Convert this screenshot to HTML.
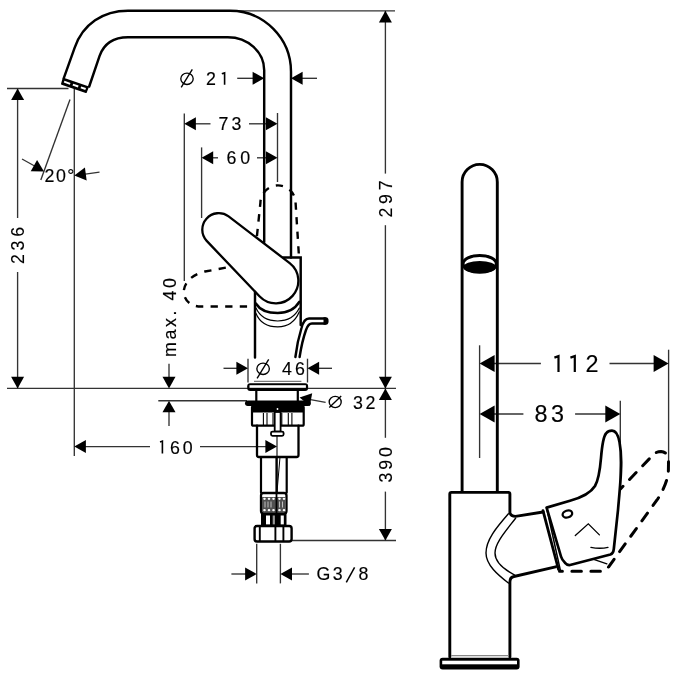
<!DOCTYPE html>
<html><head><meta charset="utf-8"><style>
html,body{margin:0;padding:0;background:#fff;}
svg{display:block;}
text{font-family:"Liberation Sans",sans-serif;fill:#000;stroke:#000;stroke-width:0.15;}
svg{will-change:transform;}
.t{stroke:#333;stroke-width:1.35;fill:none;}
.k{stroke:#000;fill:none;stroke-linecap:round;}
.th path{stroke:#000;stroke-width:2.45;fill:none;stroke-linecap:round;}
.d{stroke:#000;stroke-width:2.4;fill:none;stroke-dasharray:7.3 7.3;}
.dd path{stroke:#000;stroke-width:2.4;fill:none;stroke-dasharray:7.3 7.3;}
.h{stroke:#000;stroke-width:2.3;fill:#fff;}
</style></head><body>
<svg width="675" height="675" viewBox="0 0 675 675">
<rect width="675" height="675" fill="#fff"/>
<g><line class="t" x1="128" y1="10.8" x2="395" y2="10.8"/><line class="t" x1="7" y1="88.5" x2="68.5" y2="88.5"/><line class="t" x1="74.3" y1="88.5" x2="74.3" y2="456"/><line class="t" x1="70" y1="99.5" x2="40.8" y2="180"/><line class="t" x1="22" y1="159" x2="40" y2="169"/><line class="t" x1="80" y1="174.8" x2="99.5" y2="172.2"/><line class="t" x1="17.6" y1="88.5" x2="17.6" y2="218"/><line class="t" x1="17.6" y1="272" x2="17.6" y2="388.4"/><line class="t" x1="7" y1="388.4" x2="248" y2="388.4"/><line class="t" x1="308" y1="388.4" x2="396" y2="388.4"/><line class="t" x1="385.4" y1="10.8" x2="385.4" y2="173.6"/><line class="t" x1="385.4" y1="225.2" x2="385.4" y2="388.4"/><line class="t" x1="385.4" y1="388.4" x2="385.4" y2="437.8"/><line class="t" x1="385.4" y1="491.6" x2="385.4" y2="540.5"/><line class="t" x1="291" y1="540.5" x2="396" y2="540.5"/><line class="t" x1="237.2" y1="78.3" x2="255" y2="78.3"/><line class="t" x1="300" y1="78.3" x2="317" y2="78.3"/><line class="t" x1="184.3" y1="113.5" x2="184.3" y2="281"/><line class="t" x1="277.5" y1="113" x2="277.5" y2="182"/><line class="t" x1="190" y1="123.8" x2="210.5" y2="123.8"/><line class="t" x1="249" y1="123.8" x2="270" y2="123.8"/><line class="t" x1="201.6" y1="147.4" x2="201.6" y2="218"/><line class="t" x1="205" y1="157.8" x2="218" y2="157.8"/><line class="t" x1="257" y1="157.8" x2="270" y2="157.8"/><line class="t" x1="169" y1="363.8" x2="169" y2="380"/><line class="t" x1="158.3" y1="400.7" x2="247" y2="400.7"/><line class="t" x1="169" y1="405" x2="169" y2="426"/><line class="t" x1="223.5" y1="368.3" x2="240" y2="368.3"/><line class="t" x1="315" y1="368.3" x2="332" y2="368.3"/><line class="t" x1="248" y1="358.7" x2="248" y2="382.5"/><line class="t" x1="307.5" y1="358.7" x2="307.5" y2="382.5"/><line class="t" x1="305" y1="398.6" x2="325.6" y2="402.4"/><line class="t" x1="80" y1="446.6" x2="150" y2="446.6"/><line class="t" x1="200" y1="446.6" x2="270" y2="446.6"/><line class="t" x1="277" y1="407" x2="277" y2="492"/><line class="t" x1="256.7" y1="543.8" x2="256.7" y2="583.4"/><line class="t" x1="280.4" y1="543.8" x2="280.4" y2="583.4"/><line class="t" x1="231.4" y1="574" x2="250" y2="574"/><line class="t" x1="287" y1="574" x2="308.9" y2="574"/><line class="t" x1="479.6" y1="345.3" x2="479.6" y2="458"/><line class="t" x1="668.6" y1="349.7" x2="668.6" y2="463.8"/><line class="t" x1="620.3" y1="400.8" x2="620.3" y2="486"/><line class="t" x1="490" y1="363.5" x2="540.9" y2="363.5"/><line class="t" x1="609.5" y1="363.5" x2="660" y2="363.5"/><line class="t" x1="490" y1="414" x2="523.4" y2="414"/><line class="t" x1="575.1" y1="414" x2="610" y2="414"/></g>
<g class="dd"><path d="M256.5 240 L260.4 203 A17.6 17.6 0 0 1 295.6 203 L299 257" stroke-dashoffset="10.6"/><path stroke-dashoffset="8.3" d="M232 266.5 L205 271.5 C189 275 182.5 286 184 294 C185 301 191 306.5 201 306.5 L256 306.5"/></g>
<g class="th"><path d="M63.8 78.2 L74.7 47.6 C83 24 103 10.8 128 10.8 L230 10.8 A61 61 0 0 1 291 71.8 L291 257.4"/><path d="M89.2 86.5 L99.6 55.9 C104 43.7 113 37.3 128 37.3 L227.8 37.3 A36.4 33 0 0 1 264.2 70.3 L264.2 242"/><path d="M283.2 257.4 L300.7 257.4 L300.7 325"/><path d="M255 292 L255 357.4"/><path d="M295.4 357 C296.5 348 299 336 301.5 328 C303 322 305 318.5 309 318.5 L325 318.5"/><path d="M299.6 357 C301 348 303.5 337 306 330 C307.5 325.5 309 323.5 312 323.5 L325 323.5"/><path d="M323.5 317.3 L326 317.3 Q328.6 317.3 328.6 321 Q328.6 324.7 326 324.7 L323.5 324.7 Z" style="fill:#000;stroke:none"/></g>
<g><path class="k" d="M256 303.7 C260 310 268 313 277.7 313 C287 313 295 309 299.3 301.9" stroke-width="2.6"/><path class="k" d="M256 308.1 C260 317 268 321 277.7 321 C288 321 295 317 299.3 308.1" stroke-width="1.2"/><path class="k" d="M256 313.4 C260 323 268 326.8 277.7 326.8 C288 326.8 295 322 299.3 311.7" stroke-width="1.2"/></g>
<path class="h" d="M228.6 216.4 L289.7 263.1 A22.5 22.5 0 1 1 259.7 296.5 L206.7 240.9 A16.5 16.5 0 0 1 228.6 216.4 Z"/>
<path d="M63.3 78.6 L88 86.9 L86 92.3 L61.8 84 Z" fill="#000" stroke="#000" stroke-width="1.6" stroke-linejoin="round"/><path d="M64.5 80.8 L70.5 82.9 L69.8 84.7 L63.8 82.6 Z M73.2 83.8 L78.6 85.6 L77.9 87.4 L72.5 85.6 Z M81.2 86.5 L86 88.1 L85.3 89.9 L80.5 88.3 Z" fill="#fff"/>
<g><rect x="247.2" y="383.2" width="60.9" height="7.8" rx="3" fill="#000"/><rect x="249.5" y="385.2" width="56.4" height="2.6" fill="#fff"/><line x1="254" y1="381.3" x2="301.4" y2="381.3" stroke="#777" stroke-width="1.2"/><path class="k" d="M256.3 391 L256.3 401 M297.8 391 L297.8 401" stroke-width="2.2"/><rect x="245" y="400.6" width="65.8" height="5.5" rx="2.75" fill="#000"/><rect x="252" y="406" width="51.7" height="19.7" rx="1.5" fill="#fff" stroke="#000" stroke-width="2.2"/><rect x="252" y="406" width="51.7" height="6.5" fill="#000"/><circle cx="277.5" cy="409" r="0.9" fill="#fff"/><line x1="263.4" y1="413" x2="263.4" y2="425" stroke="#000" stroke-width="1.1"/><line x1="267" y1="413" x2="267" y2="425" stroke="#000" stroke-width="1.1"/><line x1="273" y1="413" x2="273" y2="425" stroke="#000" stroke-width="1.1"/><line x1="281.8" y1="413" x2="281.8" y2="425" stroke="#000" stroke-width="1.1"/><line x1="288.3" y1="413" x2="288.3" y2="425" stroke="#000" stroke-width="1.1"/><line x1="291.9" y1="413" x2="291.9" y2="425" stroke="#000" stroke-width="1.1"/><rect x="274.7" y="412" width="5.9" height="19.6" fill="#fff" stroke="#000" stroke-width="1.8"/><rect x="271" y="431.6" width="12.6" height="4.2" rx="1.5" fill="#fff" stroke="#000" stroke-width="1.8"/><path class="k" d="M257 425.7 L257 455 Q257 457 259 457 L296.5 457 Q298.5 457 298.5 455 L298.5 425.7" stroke-width="2.3"/><path class="k" d="M261 457 L261 492.6 M276.5 457 L276.5 492.6 M286.7 457 L286.7 492.6" stroke-width="2.2"/><line x1="280" y1="457" x2="277" y2="492" stroke="#000" stroke-width="1"/><rect x="261" y="493" width="25.5" height="20.5" rx="2.5" fill="#fff" stroke="#000" stroke-width="2.3"/><rect x="262" y="497" width="23.5" height="15" fill="#505050"/><ellipse cx="264.5" cy="498.8" rx="1.3" ry="1.1" fill="#fff"/><ellipse cx="264.5" cy="510.2" rx="1.3" ry="1.1" fill="#fff"/><ellipse cx="269" cy="498.8" rx="1.3" ry="1.1" fill="#fff"/><ellipse cx="269" cy="510.2" rx="1.3" ry="1.1" fill="#fff"/><ellipse cx="273.5" cy="498.8" rx="1.3" ry="1.1" fill="#fff"/><ellipse cx="273.5" cy="510.2" rx="1.3" ry="1.1" fill="#fff"/><ellipse cx="279.5" cy="498.8" rx="1.3" ry="1.1" fill="#fff"/><ellipse cx="279.5" cy="510.2" rx="1.3" ry="1.1" fill="#fff"/><ellipse cx="284" cy="498.8" rx="1.3" ry="1.1" fill="#fff"/><ellipse cx="284" cy="510.2" rx="1.3" ry="1.1" fill="#fff"/><line x1="265" y1="501.5" x2="265" y2="507.5" stroke="#ccc" stroke-width="0.9"/><line x1="268" y1="501.5" x2="268" y2="507.5" stroke="#ccc" stroke-width="0.9"/><line x1="271" y1="501.5" x2="271" y2="507.5" stroke="#ccc" stroke-width="0.9"/><line x1="279.5" y1="501.5" x2="279.5" y2="507.5" stroke="#ccc" stroke-width="0.9"/><line x1="282.5" y1="501.5" x2="282.5" y2="507.5" stroke="#ccc" stroke-width="0.9"/><line x1="276.5" y1="493" x2="276.5" y2="513" stroke="#000" stroke-width="1.8"/><rect x="261" y="513" width="25.5" height="13" fill="#000"/><rect x="266" y="515.5" width="4" height="9" fill="#fff"/><rect x="272.7" y="515.5" width="2.2" height="9" fill="#999"/><rect x="280.7" y="515.5" width="3.1" height="9" fill="#fff"/><rect x="254.6" y="526" width="37" height="15.5" rx="2.5" fill="#fff" stroke="#000" stroke-width="2.4"/><path class="k" d="M259.8 526 L259.8 541 M275.4 526 L275.4 541 M283.4 526 L283.4 541" stroke-width="1.9" stroke-linecap="butt"/></g>
<g><path class="k" d="M462.1 491 L462.1 182 A17.6 17.6 0 0 1 497.3 182 L497.3 491" stroke-width="2.9"/><ellipse cx="479.7" cy="263.7" rx="16.6" ry="8.3" fill="#fff" stroke="#000" stroke-width="3"/><ellipse cx="479.7" cy="267.3" rx="16.4" ry="6.3" fill="#000"/><path class="k" d="M449.8 657 L449.8 494 Q449.8 492.4 451.5 492.4 L508.3 492.4 Q509.9 492.4 509.9 494 L509.9 512.9 Q511 516.4 515.6 516.4 L543.1 512" stroke-width="2.9"/><path class="k" d="M509.9 657 L509.9 582 Q510 577 514 576.5 L555.6 566.8" stroke-width="2.9"/><path class="k" d="M508.4 513.8 C496 528 486 540 486 553 C486 565 498 575 508.4 583" stroke-width="1.4"/><path class="k" d="M515.6 518.2 C505 532 495 543 495 553 C495 562 505 570 514.7 575.1" stroke-width="1.4"/><path class="k" d="M543 510.6 L558.5 569.5" stroke-width="2.8" stroke-linecap="butt"/><path class="k" d="M546.6 508 L560.5 570.8" stroke-width="1.5"/><path class="k" d="M546.6 507.6 L570 500.7 C580 498 590 494 595 486 C599 479 600 470 601 458 C602 446 603 437 606 433.5 C608 431 610 430.7 612 430.7 C616 430.7 618 434 619.5 442 C621 450 621.5 460 621 470 C620.8 480 619.3 495 618 510 L613.8 549 Q613.3 553.5 610.4 554.5 L571 564.8 Q567.5 565.8 565 562.8 Q562 560 561 556.5 Z" stroke-width="2.7" stroke-linejoin="round"/><ellipse cx="567.4" cy="514" rx="4.9" ry="3.4" fill="none" stroke="#000" stroke-width="2.3" transform="rotate(-18 567.4 514)"/><path class="k" d="M575.3 535.6 L588.3 523.8 L599.4 534.9" stroke-width="1.3"/><path class="k" d="M590.9 547.3 Q600 549.2 608 547.3" stroke-width="1.3"/><path class="k" d="M594.4 559.6 L606.9 563.8" stroke-width="1.3"/><path class="k" stroke-linecap="butt" stroke-dasharray="9.5 9.5" stroke-dashoffset="6.6" d="M559.5 571.2 L601 571.2 Q606 571.2 608.5 567 L657 500 C663 491 668 480 668.4 470 L668.5 462 Q668.5 452 661 451.4 Q656 451.4 652 456 L620.7 488.7" stroke-width="3"/><rect x="439.6" y="657.8" width="80" height="11.8" rx="3" fill="#000"/><rect x="442.2" y="660.7" width="74.8" height="3.6" fill="#fff"/><line x1="451" y1="655.6" x2="508.5" y2="655.6" stroke="#888" stroke-width="1.2"/></g>
<g fill="#000"><polygon points="385.40,10.80 391.90,22.40 378.90,22.40"/><polygon points="385.40,388.40 378.90,376.80 391.90,376.80"/><polygon points="385.40,388.40 391.90,400.00 378.90,400.00"/><polygon points="385.40,540.50 378.90,528.90 391.90,528.90"/><polygon points="17.60,88.50 24.10,100.10 11.10,100.10"/><polygon points="17.60,388.40 11.10,376.80 24.10,376.80"/><polygon points="44.00,171.40 30.70,171.37 37.09,160.04"/><polygon points="74.30,175.60 84.92,167.60 86.67,180.48"/><polygon points="264.20,78.30 252.60,84.80 252.60,71.80"/><polygon points="291.00,78.30 302.60,71.80 302.60,84.80"/><polygon points="184.30,123.80 195.90,117.30 195.90,130.30"/><polygon points="277.50,123.80 265.90,130.30 265.90,117.30"/><polygon points="201.60,157.80 213.20,151.30 213.20,164.30"/><polygon points="277.50,157.80 265.90,164.30 265.90,151.30"/><polygon points="169.00,388.40 162.50,376.80 175.50,376.80"/><polygon points="169.00,400.70 175.50,412.30 162.50,412.30"/><polygon points="248.00,368.30 236.40,374.80 236.40,361.80"/><polygon points="307.50,368.30 319.10,361.80 319.10,374.80"/><polygon points="299.60,397.60 312.17,393.26 309.87,406.05"/><polygon points="74.30,446.60 85.90,440.10 85.90,453.10"/><polygon points="277.00,446.60 265.40,453.10 265.40,440.10"/><polygon points="256.70,574.00 245.10,580.50 245.10,567.50"/><polygon points="280.40,574.00 292.00,567.50 292.00,580.50"/><polygon points="479.60,363.50 494.60,355.00 494.60,372.00"/><polygon points="668.60,363.50 653.60,372.00 653.60,355.00"/><polygon points="479.60,414.00 494.60,405.50 494.60,422.50"/><polygon points="620.30,414.00 605.30,422.50 605.30,405.50"/></g>
<g><text transform="translate(206.00 84.90)" font-size="17.8" letter-spacing="0.00">2</text><text transform="translate(218.50 130.20)" font-size="17.8" letter-spacing="3.00">73</text><text transform="translate(226.50 164.30)" font-size="17.8" letter-spacing="3.80">60</text><text transform="translate(44.50 181.50)" font-size="17.8" letter-spacing="1.50">20°</text><text transform="translate(282.00 375.00)" font-size="17.8" letter-spacing="3.20">46</text><text transform="translate(353.00 408.70)" font-size="17.8" letter-spacing="2.60">32</text><text transform="translate(170.00 453.70)" font-size="17.8" letter-spacing="2.80">60</text><text transform="translate(316.50 580.10)" font-size="17.8" letter-spacing="2.40">G3</text><text transform="translate(358.40 580.10)" font-size="17.8" letter-spacing="0.00">8</text><text transform="translate(23.90 264.00) rotate(-90)" font-size="17.8" letter-spacing="3.70">236</text><text transform="translate(392.00 217.50) rotate(-90)" font-size="17.8" letter-spacing="3.70">297</text><text transform="translate(392.20 482.50) rotate(-90)" font-size="17.8" letter-spacing="2.90">390</text><text transform="translate(176.20 357.00) rotate(-90)" font-size="17.8" letter-spacing="2.60">max. 40</text><text transform="translate(585.40 372.10)" font-size="23.4" letter-spacing="0.00">2</text><text transform="translate(534.50 422.30)" font-size="23.4" letter-spacing="3.60">83</text></g>
<g><ellipse cx="187" cy="78.8" rx="6.2" ry="5.7" fill="none" stroke="#000" stroke-width="1.35"/><line x1="181.2" y1="87.4" x2="192.3" y2="69.3" stroke="#000" stroke-width="1.35"/><ellipse cx="263.1" cy="368.8" rx="6.25" ry="5.7" fill="none" stroke="#000" stroke-width="1.35"/><line x1="257.1" y1="378.3" x2="268.7" y2="359.3" stroke="#000" stroke-width="1.35"/><ellipse cx="335.2" cy="402" rx="6.0" ry="5.6" fill="none" stroke="#000" stroke-width="1.35"/><line x1="329.3" y1="407.6" x2="341.2" y2="396" stroke="#000" stroke-width="1.35"/></g>
<path d="M221.8 73.7 L224.6 72.9 L224.6 84.7 M160 441.9 L162.4 441.1 L162.4 453.6" fill="none" stroke="#000" stroke-width="1.6" stroke-linejoin="miter"/><line x1="346.3" y1="582.4" x2="354.6" y2="567.4" stroke="#000" stroke-width="1.5"/><path d="M554.4 357.6 L558.5 356.1 L558.5 371.9 M570.4 357.6 L574.8 356.1 L574.8 371.9" fill="none" stroke="#000" stroke-width="2.2" stroke-linejoin="miter"/>
</svg>
</body></html>
